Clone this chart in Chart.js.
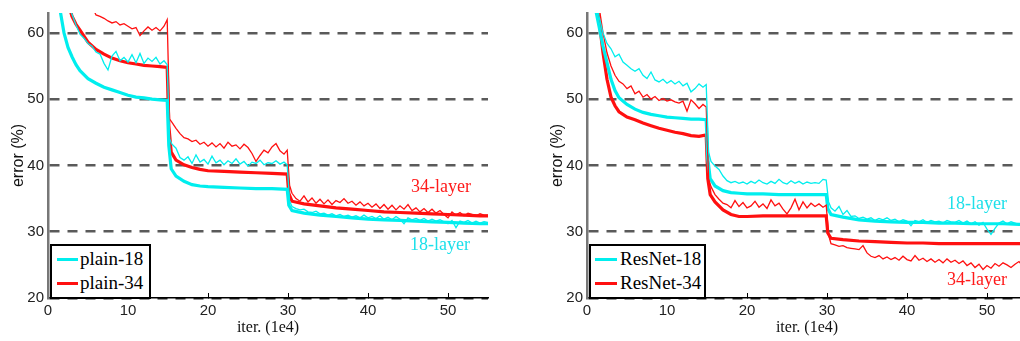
<!DOCTYPE html>
<html>
<head>
<meta charset="utf-8">
<script src="https://cdn.jsdelivr.net/npm/chart.js@4.4.1/dist/chart.umd.min.js"></script>
<style>
  html, body { margin: 0; padding: 0; background: #fff; overflow: hidden; width: 1020px; height: 341px; }
  .panel { position: absolute; top: 0; width: 500px; height: 341px; }
  .legend { position: absolute; top: 244px; height: 55px; border: 2px solid #000; background: #fff; box-sizing: border-box;
            font: 19px "Liberation Serif", serif; color: #000; }
  .legend .row { position: absolute; left: 0; height: 20px; line-height: 20px; white-space: nowrap; }
  .legend .swatch { position: absolute; top: 9px; height: 3px; }
  .legend .label { position: absolute; top: 0; }
  .note { position: absolute; font: 18px/1 "Liberation Serif", serif; white-space: nowrap; }
</style>
</head>
<body>
<div class="panel" style="left:0"><canvas id="plainChart" width="500" height="341"></canvas></div>
<div class="panel" style="left:539px"><canvas id="resnetChart" width="500" height="341"></canvas></div>

<div class="legend" style="left:50px;width:101px">
  <div class="row" style="top:3px"><span class="swatch" style="left:5px;width:21px;background:#00eeee"></span><span class="label" style="left:28px">plain-18</span></div>
  <div class="row" style="top:27px"><span class="swatch" style="left:5px;width:21px;background:#ff1010"></span><span class="label" style="left:28px">plain-34</span></div>
</div>
<div class="legend" style="left:589px;width:117px">
  <div class="row" style="top:3px"><span class="swatch" style="left:4px;width:22px;background:#00eeee"></span><span class="label" style="left:29px">ResNet-18</span></div>
  <div class="row" style="top:27px"><span class="swatch" style="left:4px;width:22px;background:#ff1010"></span><span class="label" style="left:29px">ResNet-34</span></div>
</div>

<div class="note" style="left:411px;top:177px;color:#ff1a1a">34-layer</div>
<div class="note" style="left:410px;top:235px;color:#1ee0ea">18-layer</div>
<div class="note" style="left:947px;top:194px;color:#1ee0ea">18-layer</div>
<div class="note" style="left:947px;top:270px;color:#ff1a1a">34-layer</div>

<script>
// iterations (1e4) for the thin training curves and thick validation curves
const trainIters = [
  1, 1.5, 2, 2.5, 3, 3.5, 4, 4.5, 5, 5.5, 6, 6.5, 7, 7.5, 8, 8.5, 9, 9.5, 10, 10.5, 11, 11.5, 12, 12.5, 13, 13.5, 14, 14.5,
  14.9, 15.2,
  15.5, 16, 16.5, 17, 17.5, 18, 18.5, 19, 19.5, 20, 20.5, 21, 21.5, 22, 22.5, 23, 23.5, 24, 24.5, 25, 25.5, 26, 26.5, 27, 27.5, 28, 28.5, 29, 29.5,
  29.9, 30.2,
  30.5, 31, 31.5, 32, 32.5, 33, 33.5, 34, 34.5, 35, 35.5, 36, 36.5, 37, 37.5, 38, 38.5, 39, 39.5, 40,
  40.5, 41, 41.5, 42, 42.5, 43, 43.5, 44, 44.5, 45, 45.5, 46, 46.5, 47, 47.5, 48, 48.5, 49, 49.5, 50,
  50.5, 51, 51.5, 52, 52.5, 53, 53.5, 54, 54.5, 55
];
const valIters = [
  1, 1.5, 2, 2.5, 3, 3.5, 4, 5, 6, 7, 8, 9, 10, 11, 12, 13, 14,
  14.9, 15.1, 15.4, 16, 17, 18, 19, 20, 22, 24, 26, 28,
  29.9, 30.1, 30.5, 32, 34, 36, 38, 40, 42, 44, 46, 48, 50, 52, 54, 55
];

// plain nets (left)
const plain18Train = [
  75, 70, 67, 64.5, 62.8, 61.2, 59.8, 59.2, 58.4, 58, 57.1, 56.8, 55.4, 54.4, 56.5, 57.2, 55.8, 56.3, 55.6, 56.7, 55.5, 56.9, 55.4, 56.2, 55.7, 56.3, 55.3, 55.8,
  55.2, 44,
  43.2, 42.6, 41.2, 40.8, 41.3, 40.3, 41.6, 40.5, 40.9, 40.2, 41.4, 40.4, 40.8, 40.1, 40.7, 40.3, 41, 40.2, 40.6, 39.9, 40.5, 40.3, 40.8, 40.1, 40.4, 40.3, 40.7, 40.2, 40.5,
  40.1, 34.6,
  33.8, 33.5, 33.3, 33.4, 33, 32.9, 33.1, 32.7, 32.8, 32.5, 32.7, 32.4, 32.6, 32.3, 32.5, 32.2, 32.4, 32.1, 32.5, 32.1,
  32.3, 32, 32.4, 31.9, 32.2, 31.8, 32.3, 31.9, 31.2, 32.1, 31.8, 32, 31.7, 32, 31.6, 31.9, 31.6, 31.8, 31.5, 31.2,
  31.7, 30.6, 31.6, 31.4, 31.7, 31.3, 31.6, 31.3, 31.5, 31.4
];
const plain34Train = [
  80, 78, 76, 74, 72, 70, 68, 66.5, 65, 64, 62.7, 62.5, 62.2, 61.8, 61.5, 61.7, 61.2, 61.4, 61, 60.6, 60.8, 59.6, 60.3, 60.9, 60.4, 60.8, 60.3, 61,
  62, 47,
  46.5, 45.6, 44.8, 44.2, 44, 43.6, 43.8, 43.2, 43.5, 42.9, 43.4, 42.8, 43.3, 42.6, 43.5, 42.9, 43.1, 42.5, 43.2, 42.7, 41.8, 40.6, 41.5, 42.3, 41.9, 42.8, 43.3, 42.2, 41.7,
  42.3, 37,
  35.8, 35, 34.6, 35.4, 34.5, 35.1, 34.3, 34.9, 34.2, 34.8, 34.1, 34.7, 34.4, 35, 34.3, 34.6, 34, 34.5, 33.9, 34.3,
  33.7, 34.2, 33.5, 34.1, 33.4, 34, 33.3, 33.9, 33.4, 34.1, 33.2, 33.6, 33, 33.5, 32.9, 33.4, 32.8, 33.2, 32.6, 32.1,
  33, 32.5, 32.9, 32.4, 32.8, 32.6, 32.4, 32.7, 32.5, 32.5
];
const plain18Val = [
  70, 63.5, 60, 57.8, 56.4, 55.2, 54.3, 53.1, 52.4, 51.8, 51.4, 51, 50.6, 50.3, 50.2, 50, 49.9,
  49.8, 43, 39.5, 38.4, 37.6, 37.1, 36.9, 36.8, 36.7, 36.6, 36.5, 36.5,
  36.4, 34, 33.2, 32.8, 32.5, 32.3, 32.1, 31.9, 31.8, 31.7, 31.6, 31.5, 31.4, 31.3, 31.2, 31.2
];
const plain34Val = [
  75, 72, 68, 64.5, 62.5, 61.3, 60.4, 58.6, 57.5, 56.8, 56.2, 55.8, 55.5, 55.3, 55.1, 55, 54.9,
  54.8, 46, 42, 40.8, 40.1, 39.7, 39.4, 39.2, 39.1, 39, 38.9, 38.8,
  38.7, 35.8, 34.6, 34.2, 33.9, 33.6, 33.4, 33.2, 33, 32.9, 32.8, 32.7, 32.6, 32.5, 32.4, 32.4
];

// residual nets (right)
const resnet18Train = [
  66, 62.5, 60, 58.4, 57.6, 56.4, 56.8, 55.6, 55.1, 54.6, 54.2, 54.6, 53.6, 53.1, 54.1, 52.9, 52.6, 53, 52.4, 52.8, 52.3, 52.7, 52, 52.4, 51.1, 51.6, 52.3, 51.8,
  52.2, 42,
  40.6, 39.9, 39.4, 38.4, 37.7, 37.4, 37.6, 37.3, 37.5, 37.2, 37.6, 37.3, 37.8, 37.4, 37.2, 37.6, 37.3, 37.9, 37.4, 37.2, 37.7, 37.3, 37.6, 37.2, 37.5, 37.3, 37.4, 37.3, 37.9,
  37.8, 34.5,
  33.6, 33.1, 33.8, 32.6, 33.2, 32.3, 32.4, 32, 32.2, 31.9, 32.1, 31.7, 32, 31.8, 32.1, 31.7, 31.9, 31.5, 31.8, 31.6,
  30.9, 31.7, 31.5, 31.8, 31.4, 31.7, 31.5, 31.6, 31.3, 31.7, 31.5, 31.4, 31.7, 31.3, 31.6, 31.2, 31.5, 31, 31.4, 30.4,
  29.6, 30.5, 31.3, 31.6, 31.2, 31.5, 31.3, 31.1, 31.4, 31.2
];
const resnet34Train = [
  70, 64, 60, 57, 55, 53.6, 52.7, 52.3, 51.6, 52, 50.8, 51.2, 50.3, 50.7, 50, 50.4, 49.8, 50.1, 49.7, 49.9, 49.6, 49.4, 49.7, 48.2, 49.9, 49.3, 48.6, 49.2,
  48.8, 38,
  36.8, 35.6, 34.9, 34.3, 34.1, 33.6, 34.7, 33.8, 34.4, 33.6, 33.9, 34.6, 33.7, 34.2, 33.5, 34.8, 33.9, 34.3, 33.4, 32.7, 33.6, 34.9, 33.3, 34.5, 33.6, 34.3, 33.8, 34.2, 33.7,
  34, 29.5,
  28.2, 28, 27.8, 27.9, 27.6, 27.5, 27.4, 27.3, 27.9, 26.8, 26.3, 26.1, 26.4, 25.9, 26.2, 25.8, 26.1, 25.7, 26.3, 25.8,
  25.6, 26.4, 25.7, 26, 25.5, 25.9, 25.4, 25.8, 25.3, 25.9, 25.4, 25.7, 25.2, 25.6, 24.9, 25.3, 24.6, 25.1, 24.3, 24.9,
  24.5, 25.2, 24.8, 25.3, 25, 24.6, 25.1, 25.5, 24.8, 25.2
];
const resnet18Val = [
  64, 61, 58, 55.5, 53, 51.3, 50.2, 49.2, 48.5, 48, 47.7, 47.5, 47.3, 47.2, 47.1, 47, 47,
  46.9, 41, 38, 36.9, 36.2, 35.9, 35.8, 35.7, 35.7, 35.6, 35.6, 35.6,
  35.6, 33.5, 32.6, 32.2, 31.8, 31.6, 31.5, 31.4, 31.4, 31.3, 31.3, 31.2, 31.2, 31.2, 31.1, 31.1
];
const resnet34Val = [
  66, 62, 57, 53, 50.3, 49, 48.1, 47.3, 46.9, 46.4, 46, 45.6, 45.3, 45, 44.8, 44.5, 44.4,
  44.6, 38, 35.6, 34.5, 33.3, 32.6, 32.3, 32.3, 32.4, 32.4, 32.4, 32.4,
  32.4, 29.8, 29, 28.8, 28.6, 28.5, 28.4, 28.3, 28.3, 28.2, 28.2, 28.2, 28.2, 28.2, 28.2, 28.2
];

const xTicks = [0, 10, 20, 30, 40, 50];
const yTicks = [20, 30, 40, 50, 60];

const CYAN = '#00eeee';
const RED = '#ff1010';

function pts(xs, ys) {
  return xs.map((x, i) => ({ x, y: ys[i] }));
}

function makeChart(id, train18, train34, val18, val34) {
  new Chart(document.getElementById(id), {
    type: 'line',
    data: {
      datasets: [
        { data: pts(trainIters, train18), borderColor: CYAN, borderWidth: 1.3 },
        { data: pts(trainIters, train34), borderColor: RED, borderWidth: 1.3 },
        { data: pts(valIters, val18), borderColor: CYAN, borderWidth: 3.2 },
        { data: pts(valIters, val34), borderColor: RED, borderWidth: 3.2 },
      ],
    },
    options: {
      responsive: false,
      animation: false,
      layout: { padding: { top: 10, right: 12, left: 0, bottom: 0 } },
      elements: { point: { radius: 0 }, line: { tension: 0, fill: false } },
      plugins: { legend: { display: false }, tooltip: { enabled: false } },
      scales: {
        x: {
          type: 'linear', min: 0, max: 55,
          afterBuildTicks: (s) => { s.ticks = xTicks.map(v => ({ value: v })); },
          afterFit: (s) => { s.height = 43; },
          grid: { drawOnChartArea: false, drawTicks: true, tickLength: -5, color: '#000', lineWidth: 1 },
          border: { color: '#000', width: 1.5 },
          ticks: { padding: 9, maxRotation: 0, color: '#222', font: { family: 'Liberation Sans', size: 15 } },
          title: { display: true, text: 'iter. (1e4)', color: '#111', font: { family: 'Liberation Serif', size: 16 }, padding: { top: 0, bottom: 4 } },
        },
        y: {
          type: 'linear', min: 20, max: 63,
          afterBuildTicks: (s) => { s.ticks = yTicks.map(v => ({ value: v })); },
          afterFit: (s) => { s.width = 48; },
          grid: { drawTicks: false, lineWidth: 2.5, color: (c) => (c.tick && c.tick.value === 20 ? '#222' : '#5a5a5a') },
          border: { color: '#777', width: 2.5, dash: [10, 8] },
          ticks: { padding: 4, color: '#222', font: { family: 'Liberation Sans', size: 15 } },
          title: { display: true, text: 'error (%)', color: '#111', font: { family: 'Liberation Sans', size: 16 }, padding: { top: 9, bottom: 0 } },
        },
      },
    },
  });
}

makeChart('plainChart', plain18Train, plain34Train, plain18Val, plain34Val);
makeChart('resnetChart', resnet18Train, resnet34Train, resnet18Val, resnet34Val);
</script>
</body>
</html>
